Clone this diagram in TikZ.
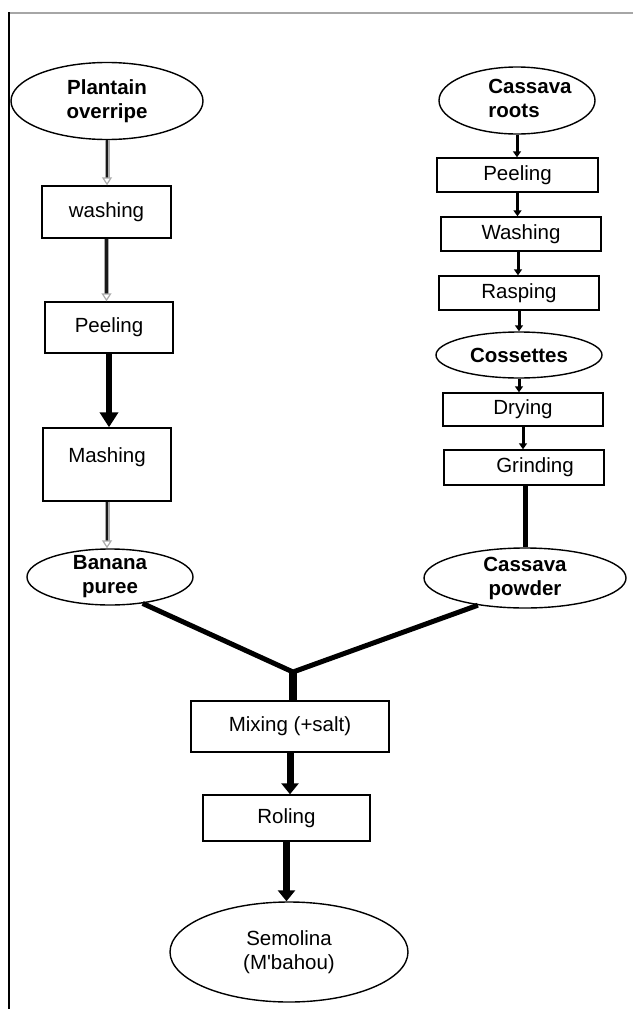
\documentclass[tikz,border=0pt]{standalone}
\usepackage{fontspec}
\setmainfont{Liberation Sans}
\usetikzlibrary{shapes.geometric,arrows.meta}
\begin{document}
\begin{tikzpicture}[x=1pt,y=-1pt,
  every node/.style={font=\fontsize{20.5}{24}\selectfont},
  box/.style={draw, line width=1.4pt, rectangle, inner sep=0pt},
  ell/.style={draw, line width=1.4pt, ellipse, inner xsep=0pt, inner ysep=-3pt, align=center},
  bt/.style={font=\fontsize{20.5}{24}\selectfont\bfseries},
  hollowarrow/.style={draw=gray!65, line width=1.3pt, double=black!90, double distance=2.4pt,
     -{Triangle[open, length=8pt, width=10pt, line width=1.2pt]}},
  bigarrow/.style={draw=black, line width=6.5pt, -{Triangle[length=15pt, width=18pt]}},
  smallarrow/.style={draw=black, line width=3pt, -{Triangle[length=6pt, width=8pt]}},
  midarrow/.style={draw=black, line width=7pt, -{Triangle[length=11pt, width=17pt]}},
  joinline/.style={draw=black, line width=5pt},
  stemline/.style={draw=black, line width=8pt},
  frameline/.style={line width=1.3pt}
]
\useasboundingbox (0,0) rectangle (633,1009);
% frame
\draw[frameline, gray!70] (8,13) -- (633,13);
\draw[frameline, black] (9,12.4) -- (9,1009);

% left column
\node[ell, bt, minimum width=192pt, minimum height=77pt] (pl) at (107,101) {Plantain\\overripe};
\node[box, minimum width=129pt, minimum height=52pt] (wa) at (106.5,212) {washing};
\node[box, minimum width=128pt, minimum height=51pt] (pe) at (109,327.5) {Peeling};
\node[box, minimum width=128pt, minimum height=73pt] (ma) at (107,464.5) {\raisebox{18pt}{Mashing}};
\node[ell, bt, minimum width=166pt, minimum height=56pt] (bp) at (110,577) {Banana\\puree};

% right column
\node[ell, bt, minimum width=156pt, minimum height=67pt] (cr) at (517,100.5)
  {\makebox[0pt]{\hspace{26pt}\begin{tabular}{@{}l@{}}Cassava\\roots\end{tabular}}};
\node[box, minimum width=161pt, minimum height=34pt] (pr) at (517.5,175) {Peeling};
\node[box, minimum width=160pt, minimum height=34pt] (wr) at (521,234) {Washing};
\node[box, minimum width=160pt, minimum height=34pt] (ra) at (519,293) {Rasping};
\node[ell, bt, minimum width=166pt, minimum height=46pt] (co) at (519,355) {Cossettes};
\node[box, minimum width=160pt, minimum height=33pt] (dr) at (523,409.5) {Drying};
\node[box, minimum width=160pt, minimum height=35pt] (gr) at (524,467.5) {\makebox[0pt]{\hspace{22pt}Grinding}};
\node[ell, bt, minimum width=202pt, minimum height=60pt] (cp) at (525,578) {Cassava\\powder};

% bottom
\node[box, minimum width=198pt, minimum height=51pt] (mix) at (290,726.5) {Mixing (+salt)};
\node[box, minimum width=167pt, minimum height=46pt] (ro) at (286.5,818) {Roling};
\node[ell, minimum width=238pt, minimum height=100pt] (se) at (289,952)
  {Semolina\\(M{\XeTeXglyph\XeTeXcharglyph"0027}bahou)};
\coordinate (j) at (293,672);

% left connectors
\draw[hollowarrow] (pl.south) -- (pl.south |- wa.north);
\draw[hollowarrow] (wa.south) -- (wa.south |- pe.north);
\draw[bigarrow] (pe.south) -- (pe.south |- ma.north);
\draw[hollowarrow] (ma.south) -- (ma.south |- bp.north);

% right connectors
\draw[smallarrow] (cr.south) -- (cr.south |- pr.north);
\draw[smallarrow] (pr.south) -- (pr.south |- wr.north);
\draw[smallarrow] ([xshift=-3pt]wr.south) -- ([xshift=-3pt]wr.south |- ra.north);
\draw[smallarrow] (ra.south) -- (ra.south |- co.north);
\draw[smallarrow] (co.south) -- (co.south |- dr.north);
\draw[smallarrow] (dr.south) -- (dr.south |- gr.north);
\draw[joinline] ([xshift=1pt]gr.south) -- ([xshift=1pt]gr.south |- cp.north);

% merge
\draw[joinline, line join=round] (bp.-39) -- (j) -- (cp.-150);
\draw[stemline] (j) -- (j |- mix.north);
\draw[midarrow] (mix.south) -- (mix.south |- ro.north);
\draw[midarrow] (ro.south) -- (ro.south |- se.north);
\end{tikzpicture}
\end{document}
